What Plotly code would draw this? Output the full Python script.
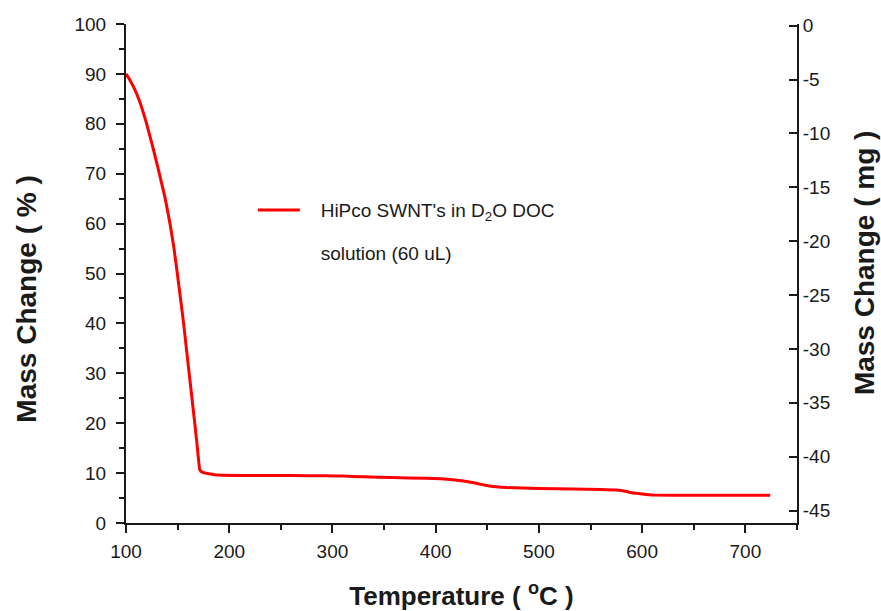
import plotly.graph_objects as go

# Thermogravimetric trace: temperature (°C) vs. mass remaining (%)
temperature = [100, 104, 108, 113, 116.5, 120, 126.4, 132.3, 138, 142.6, 146.5,
               149.7, 152.8, 155.8, 158.5, 161.2, 163.9, 166.6, 169.2, 171.6,
               175, 180, 188, 220, 260, 294, 310, 330, 358, 390, 405, 423, 438,
               452, 469, 500, 533, 560, 575, 585, 591, 600, 611, 650, 724]
mass_pct = [90, 88.7, 87.1, 84.6, 82.4, 80, 75, 70, 65, 60, 55,
            50, 45, 40, 35, 30, 25, 20, 15, 10.6,
            10.1, 9.9, 9.6, 9.5, 9.5, 9.45, 9.4, 9.25, 9.1, 8.95, 8.85, 8.5, 8.0,
            7.4, 7.1, 6.9, 6.8, 6.7, 6.6, 6.3, 6.0, 5.8, 5.6, 5.55, 5.55]

series_name = "HiPco SWNT's in D<sub>2</sub>O DOC"
series_name_cont = "solution (60 uL)"

x_ticks = [100, 200, 300, 400, 500, 600, 700]
y_left_ticks = list(range(0, 101, 10))
y_right_ticks = list(range(0, -46, -5))
y_right_text = [str(v) for v in y_right_ticks]

FONT = "Liberation Sans, Arial, sans-serif"
INK = "#1a1a1a"
GAP = "\u00a0\u00a0\u00a0"  # spacing between legend line and its label

fig = go.Figure()
fig.add_trace(go.Scatter(
    x=temperature, y=mass_pct, mode="lines", name=GAP + series_name,
    line=dict(color="#ff0000", width=3, shape="spline", smoothing=0.3),
    legendgroup="a",
))
# second legend row carrying the wrapped part of the label
fig.add_trace(go.Scatter(
    x=[None], y=[None], mode="lines", name=GAP + series_name_cont,
    line=dict(color="rgba(0,0,0,0)", width=0), legendgroup="b",
    hoverinfo="skip",
))
# right-hand axis (absolute mass change, mg)
fig.add_trace(go.Scatter(
    x=[None], y=[None], yaxis="y2", showlegend=False, hoverinfo="skip",
))

tick_font = dict(family=FONT, size=19, color=INK)
ytitle_font = dict(family=FONT, size=28, color=INK)

fig.update_layout(
    width=881, height=611,
    margin=dict(l=126, r=84, t=24, b=88),
    paper_bgcolor="white", plot_bgcolor="white",
    font=dict(family=FONT, color=INK),
    showlegend=True,
    legend=dict(
        x=0.189, y=0.665, xanchor="left", yanchor="top",
        font=dict(family=FONT, size=19, color=INK),
        bgcolor="rgba(0,0,0,0)", traceorder="grouped", tracegroupgap=15,
        itemwidth=42,
    ),
    xaxis=dict(
        range=[100, 750], tickvals=x_ticks, ticks="outside", ticklen=8,
        tickwidth=2, tickcolor=INK, showline=True, linewidth=2, linecolor=INK,
        showgrid=False, zeroline=False, tickfont=tick_font, ticklabelstandoff=2,
        automargin=False,
        minor=dict(dtick=50, tick0=50, ticks="outside", ticklen=5, tickwidth=2,
                   tickcolor=INK, showgrid=False),
        title=dict(text="<b>Temperature ( <sup>o</sup>C )</b>",
                   font=dict(family=FONT, size=26, color=INK), standoff=27),
    ),
    yaxis=dict(
        range=[0, 100], tickvals=y_left_ticks, ticks="outside", ticklen=8,
        tickwidth=2, tickcolor=INK, showline=True, linewidth=2, linecolor=INK,
        showgrid=False, zeroline=False, tickfont=tick_font, ticklabelstandoff=6,
        automargin=False,
        minor=dict(dtick=10, tick0=5, ticks="outside", ticklen=5, tickwidth=2,
                   tickcolor=INK, showgrid=False),
    ),
    yaxis2=dict(
        overlaying="y", side="right", range=[-46.15, 0.15],
        tickvals=y_right_ticks, ticktext=y_right_text, ticks="inside",
        ticklen=8, tickwidth=2, tickcolor=INK, showline=True, linewidth=2,
        linecolor=INK, showgrid=False, zeroline=False, tickfont=tick_font,
        automargin=False,
    ),
    annotations=[
        dict(text="<b>Mass Change ( % )</b>", textangle=-90, font=ytitle_font,
             xref="paper", yref="paper", x=-0.148, y=0.449,
             xanchor="center", yanchor="middle", showarrow=False),
        dict(text="<b>Mass Change ( mg )</b>", textangle=-90, font=ytitle_font,
             xref="paper", yref="paper", x=1.1, y=0.521,
             xanchor="center", yanchor="middle", showarrow=False),
    ],
)

fig.write_html("out.html")
